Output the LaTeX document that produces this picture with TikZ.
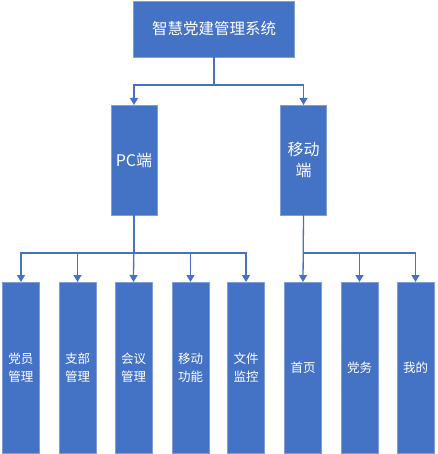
\documentclass[tikz,border=0pt]{standalone}
\usepackage{fontspec}
\setmainfont{Noto Sans CJK SC}
\usetikzlibrary{arrows.meta}
\definecolor{boxblue}{HTML}{4472C4}
\definecolor{edgeblue}{HTML}{7F9ED6}
\tikzset{%
  >={Triangle[width=8pt,length=7pt]},
  % Specifications for style of nodes:
            base/.style = {rectangle, draw=edgeblue, line width=0.8pt,
                           fill=boxblue, text=white, inner sep=0pt,
                           outer sep=0pt, align=center},
        topbox/.style = {base, minimum width=161pt, minimum height=56pt,
                           font=\fontsize{15.5}{20}\selectfont},
        midbox/.style = {base, minimum width=46pt, minimum height=110pt,
                           font=\fontsize{16}{21}\selectfont},
        leafbox/.style = {base, minimum width=37pt, minimum height=171pt,
                           font=\fontsize{12.5}{18}\selectfont},
          link/.style = {->, draw=boxblue, line width=1.3pt},
}

\begin{document}
\begin{tikzpicture}[x=1pt, y=-1pt]
  \useasboundingbox (0,0) rectangle (437,454);
  % Specification of nodes (position, etc.)

  \node (system)   [topbox]  at (214,29)    {智慧党建管理系统};
  \node (pc)       [midbox]  at (134,160)   {PC端};
  \node (mobile)   [midbox]  at (303.5,160) {移动\\端};

  \node (member)   [leafbox] at (21,367.5)    {党员\\管理};
  \node (branch)   [leafbox] at (77.5,367.5)  {支部\\管理};
  \node (meeting)  [leafbox] at (133.5,367.5) {会议\\管理};
  \node (move)     [leafbox] at (190.5,367.5) {移动\\功能};
  \node (files)    [leafbox] at (246,367.5)   {文件\\监控};
  \node (home)     [leafbox] at (303,367.5)   {首页};
  \node (affairs)  [leafbox] at (359.5,367.5) {党务};
  \node (mine)     [leafbox] at (415.5,367.5) {我的};

  \draw[link]      (system.south) |- ([yshift=20pt]pc.north) -- (pc.north);
  \draw[link]      (system.south) |- ([yshift=20pt]mobile.north) -- (mobile.north);

  \draw[link]      (pc.south) |- ([yshift=29pt]member.north) -- (member.north);
  \draw[link]      (pc.south) |- ([yshift=29pt]branch.north) -- (branch.north);
  \draw[link]      (pc.south) -- (meeting.north);
  \draw[link]      (pc.south) |- ([yshift=29pt]move.north) -- (move.north);
  \draw[link]      (pc.south) |- ([yshift=29pt]files.north) -- (files.north);

  \draw[link]      (mobile.south) -- (home.north);
  \draw[link]      (mobile.south) |- ([yshift=29pt]affairs.north) -- (affairs.north);
  \draw[link]      (mobile.south) |- ([yshift=29pt]mine.north) -- (mine.north);

\end{tikzpicture}
\end{document}
